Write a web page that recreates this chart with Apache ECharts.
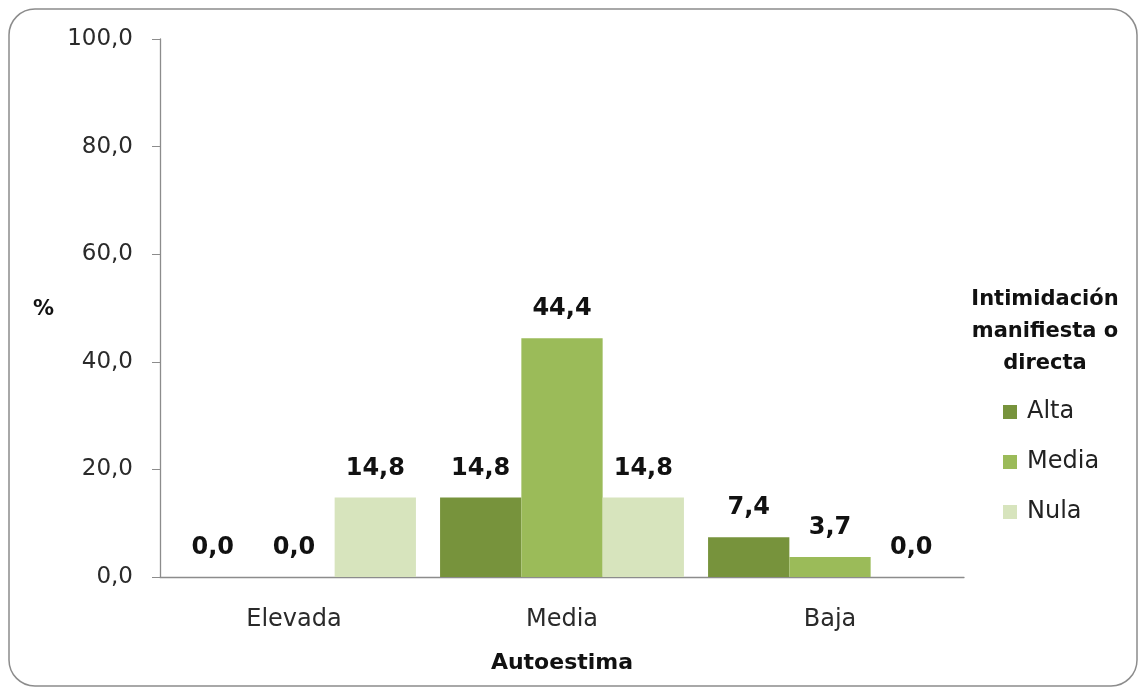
<!DOCTYPE html>
<html>
<head>
<meta charset="utf-8">
<script src="https://cdn.jsdelivr.net/npm/echarts@6/dist/echarts.min.js"></script>
<style>
  html, body { margin: 0; padding: 0; background: #fff; }
  #chart { width: 1140px; height: 690px; }
</style>
</head>
<body>
<div id="chart"></div>
<script>
// Autoestima por nivel de intimidación manifiesta o directa (%)
const categories = ['Elevada', 'Media', 'Baja'];
const seriesNames = ['Alta', 'Media', 'Nula'];
const alta = [0.0, 14.8, 7.4];
const media = [0.0, 44.4, 3.7];
const nula = [14.8, 14.8, 0.0];
const yTicks = [0, 20, 40, 60, 80, 100];

const colors = ['#77933C', '#9BBB59', '#D7E4BD'];
const FONT = '"DejaVu Sans", "Noto Sans", sans-serif';
const fmt = v => Number(v).toFixed(1).replace('.', ',');

const chart = echarts.init(document.getElementById('chart'));

function bar(name, data, color) {
  return {
    name: name,
    type: 'bar',
    data: data,
    barGap: '0%',
    barCategoryGap: '9%',
    itemStyle: { color: color },
    label: {
      show: true,
      position: 'top',
      distance: 17,
      formatter: p => fmt(p.value),
      fontFamily: FONT,
      fontSize: 24,
      fontWeight: 'bold',
      color: '#111'
    }
  };
}

chart.setOption({
  animation: false,
  backgroundColor: '#fff',
  grid: { left: 160, right: 176, top: 39, bottom: 113, containLabel: false },
  graphic: [
    {
      type: 'rect',
      shape: { x: 9, y: 9, width: 1128, height: 677, r: 26 },
      style: { fill: 'none', stroke: '#8c8c8c', lineWidth: 1.5 },
      z: -1
    },
    {
      type: 'text',
      left: 33, top: 299,
      style: { text: '%', font: 'bold 21px ' + FONT, fill: '#111' }
    }
  ],
  title: {
    text: 'Intimidación\nmanifiesta o\ndirecta',
    left: 1040,
    top: 279,
    textAlign: 'center',
    textStyle: {
      fontFamily: FONT, fontSize: 21, fontWeight: 'bold',
      color: '#111', lineHeight: 32
    }
  },
  legend: {
    orient: 'vertical',
    left: 1003,
    top: 400,
    padding: 0,
    itemWidth: 14,
    itemHeight: 14,
    itemGap: 26,
    icon: 'rect',
    data: seriesNames,
    textStyle: { fontFamily: FONT, fontSize: 24, color: '#222', padding: [0, 0, 0, 5] }
  },
  xAxis: {
    type: 'category',
    data: categories,
    name: 'Autoestima',
    nameLocation: 'middle',
    nameGap: 75,
    nameTextStyle: { fontFamily: FONT, fontSize: 22, fontWeight: 'bold', color: '#111' },
    axisLine: { lineStyle: { color: '#8c8c8c', width: 1.3 } },
    axisTick: { show: false },
    axisLabel: { fontFamily: FONT, fontSize: 24, color: '#2a2a2a', margin: 31 }
  },
  yAxis: {
    type: 'value',
    min: yTicks[0],
    max: yTicks[yTicks.length - 1],
    interval: yTicks[1] - yTicks[0],
    splitLine: { show: false },
    axisLine: { show: true, lineStyle: { color: '#8c8c8c', width: 1.3 } },
    axisTick: { show: true, length: 8, lineStyle: { color: '#8c8c8c' } },
    axisLabel: {
      fontFamily: FONT, fontSize: 23, color: '#2a2a2a', margin: 27,
      formatter: v => fmt(v)
    }
  },
  series: [
    bar(seriesNames[0], alta, colors[0]),
    bar(seriesNames[1], media, colors[1]),
    bar(seriesNames[2], nula, colors[2])
  ]
});
</script>
</body>
</html>
